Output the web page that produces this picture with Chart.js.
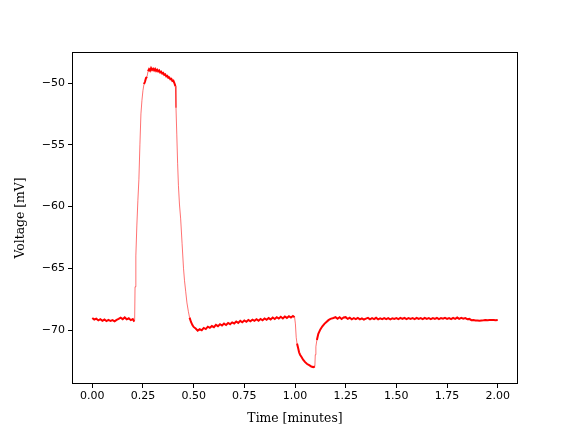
<!DOCTYPE html>
<html>
<head>
<meta charset="utf-8">
<script src="https://cdn.jsdelivr.net/npm/chart.js@4/dist/chart.umd.min.js"></script>
<style>
html,body{margin:0;padding:0;background:#fff;}
canvas{display:block;}
</style>
</head>
<body>
<canvas id="c" width="576" height="432"></canvas>
<script>
// Time in minutes
const times = [
0.00,0.01,0.02,0.03,0.04,0.05,0.06,0.07,0.08,0.09,
0.10,0.11,0.12,0.13,0.14,0.15,0.16,0.17,0.18,0.19,
0.20,0.205,0.209,0.211,0.215,0.22,0.225,0.23,0.235,0.24,
0.245,0.25,0.255,0.26,0.265,0.27,0.275,0.28,0.285,0.29,
0.295,0.30,0.305,0.31,0.315,0.32,0.325,0.33,0.335,0.34,
0.345,0.35,0.355,0.36,0.365,0.37,0.375,0.38,0.385,0.39,
0.395,0.40,0.405,0.41,0.413,0.417,0.421,0.425,0.43,0.436,
0.443,0.45,0.455,0.461,0.467,0.474,0.48,0.487,0.494,0.50,
0.51,0.52,0.53,0.54,0.55,0.56,0.57,0.58,0.59,0.60,
0.61,0.62,0.63,0.64,0.65,0.66,0.67,0.68,0.69,0.70,
0.71,0.72,0.73,0.74,0.75,0.76,0.77,0.78,0.79,0.80,
0.81,0.82,0.83,0.84,0.85,0.86,0.87,0.88,0.89,0.90,
0.91,0.92,0.93,0.94,0.95,0.96,0.97,0.98,0.99,0.998,
1.002,1.006,1.01,1.016,1.02,1.025,1.033,1.04,1.05,1.06,
1.07,1.08,1.09,1.098,1.10,1.103,1.108,1.115,1.125,1.135,
1.145,1.155,1.165,1.175,1.19,1.20,1.21,1.22,1.23,1.24,
1.25,1.26,1.27,1.28,1.29,1.30,1.31,1.32,1.33,1.34,
1.35,1.36,1.37,1.38,1.39,1.40,1.41,1.42,1.43,1.44,
1.45,1.46,1.47,1.48,1.49,1.50,1.51,1.52,1.53,1.54,
1.55,1.56,1.57,1.58,1.59,1.60,1.61,1.62,1.63,1.64,
1.65,1.66,1.67,1.68,1.69,1.70,1.71,1.72,1.73,1.74,
1.75,1.76,1.77,1.78,1.79,1.80,1.81,1.82,1.83,1.84,
1.85,1.86,1.87,1.88,1.89,1.90,1.91,1.92,1.93,1.94,
1.95,1.96,1.97,1.98,1.99,2.00
];
// Voltage in mV
const volts = [
-69.02,-69.15,-69.08,-69.22,-69.12,-69.25,-69.15,-69.27,-69.18,-69.27,
-69.20,-69.30,-69.18,-69.10,-69.00,-69.12,-68.98,-69.13,-69.05,-69.20,
-69.12,-69.25,-69.20,-66.50,-64.00,-61.50,-59.50,-57.80,-55.00,-52.50,
-51.40,-50.60,-50.10,-49.90,-49.60,-49.50,-49.05,-48.88,-49.00,-48.80,
-48.95,-48.85,-48.98,-48.86,-49.02,-48.92,-49.06,-48.98,-49.14,-49.08,
-49.24,-49.18,-49.34,-49.30,-49.46,-49.42,-49.58,-49.55,-49.70,-49.66,
-49.84,-49.80,-50.00,-50.25,-52.00,-54.20,-56.50,-58.30,-59.80,-61.00,
-63.00,-65.00,-66.00,-66.90,-67.80,-68.50,-69.00,-69.35,-69.60,-69.75,
-69.88,-70.05,-69.93,-70.02,-69.83,-69.92,-69.73,-69.82,-69.68,-69.77,
-69.58,-69.69,-69.53,-69.64,-69.48,-69.59,-69.43,-69.53,-69.38,-69.47,
-69.31,-69.42,-69.26,-69.37,-69.23,-69.33,-69.18,-69.29,-69.16,-69.26,
-69.13,-69.24,-69.10,-69.21,-69.06,-69.17,-69.03,-69.14,-68.99,-69.11,
-68.96,-69.07,-68.93,-69.06,-68.90,-69.02,-68.88,-68.99,-68.86,-68.96,
-69.50,-70.60,-71.10,-71.50,-71.80,-72.00,-72.20,-72.40,-72.60,-72.75,
-72.85,-72.95,-73.00,-72.95,-72.00,-71.35,-70.80,-70.30,-69.95,-69.70,
-69.50,-69.35,-69.20,-69.10,-69.03,-68.96,-69.09,-68.97,-69.11,-68.99,
-68.96,-69.10,-69.01,-69.13,-69.04,-69.12,-69.02,-69.13,-69.05,-69.15,
-69.08,-69.02,-69.13,-69.04,-69.12,-69.01,-69.13,-69.05,-69.12,-69.03,
-69.12,-69.04,-69.13,-69.05,-69.11,-69.04,-69.12,-69.02,-69.10,-69.01,
-69.12,-69.03,-69.10,-69.04,-69.12,-69.01,-69.10,-69.03,-69.12,-69.02,
-69.10,-69.04,-69.12,-69.03,-69.10,-69.01,-69.11,-69.03,-69.09,-69.02,
-69.10,-69.03,-69.12,-69.01,-69.09,-68.99,-69.10,-69.02,-69.09,-69.04,
-69.12,-69.10,-69.20,-69.19,-69.23,-69.22,-69.25,-69.22,-69.21,-69.19,
-69.20,-69.19,-69.19,-69.18,-69.20,-69.18
];
const xTickValues = [0, 0.25, 0.5, 0.75, 1.0, 1.25, 1.5, 1.75, 2.0];
const yTickValues = [-70, -65, -60, -55, -50];
const xTitle = 'Time [minutes]';
const yTitle = 'Voltage [mV]';

const points = times.map((t, i) => ({x: t, y: volts[i]}));

const framePlugin = {
  id: 'frame',
  afterDraw(chart) {
    const a = chart.chartArea, ctx = chart.ctx;
    ctx.save();
    ctx.strokeStyle = '#000';
    ctx.lineWidth = 1;
    ctx.strokeRect(Math.round(a.left) + 0.5, Math.round(a.top) + 0.5,
                   Math.round(a.right - a.left) - 1, Math.round(a.bottom - a.top) - 1);
    ctx.restore();
  }
};

// thin stroke on steep segments, band-like stroke on noisy flat parts
function steep(ctx) {
  const dx = Math.abs(ctx.p1.x - ctx.p0.x), dy = Math.abs(ctx.p1.y - ctx.p0.y);
  return dy > 3 * dx + 2;
}

const tickFont = {family: 'DejaVu Sans', size: 11};
const titleFont = {family: 'DejaVu Serif', size: 12.4};

new Chart(document.getElementById('c'), {
  type: 'scatter',
  data: {
    datasets: [{
      data: points,
      showLine: true,
      borderColor: '#ff0000',
      backgroundColor: '#ff0000',
      borderWidth: 2,
      pointRadius: 0,
      tension: 0,
      segment: {
        borderWidth: c => steep(c) ? 0.8 : 2,
        borderColor: c => steep(c) ? 'rgba(255,0,0,0.7)' : '#ff0000'
      }
    }]
  },
  options: {
    responsive: false,
    animation: false,
    devicePixelRatio: 1,
    layout: {padding: {left: 0, top: 52, right: 58, bottom: 0}},
    plugins: {legend: {display: false}, tooltip: {enabled: false}},
    scales: {
      x: {
        type: 'linear',
        min: -0.1, max: 2.1,
        afterFit(s) { s.height = 48; },
        afterBuildTicks(s) { s.ticks = xTickValues.map(v => ({value: v})); },
        ticks: {
          color: '#000', font: tickFont, padding: 2, maxRotation: 0,
          callback: v => v.toFixed(2)
        },
        grid: {display: true, drawOnChartArea: false, drawTicks: true, tickLength: 4, color: '#000', tickColor: '#000'},
        border: {display: false},
        title: {display: true, text: xTitle, color: '#000', font: titleFont, padding: {top: 0, bottom: 6}}
      },
      y: {
        type: 'linear',
        min: -74.37, max: -47.49,
        afterFit(s) { s.width = 72; },
        afterBuildTicks(s) { s.ticks = yTickValues.map(v => ({value: v})); },
        ticks: {
          color: '#000', font: tickFont, padding: 3,
          callback: v => String(v).replace('-', '\u2212')
        },
        grid: {display: true, drawOnChartArea: false, drawTicks: true, tickLength: 4, color: '#000', tickColor: '#000'},
        border: {display: false},
        title: {display: true, text: yTitle, color: '#000', font: titleFont, padding: {top: 13, bottom: 0}}
      }
    }
  },
  plugins: [framePlugin]
});
</script>
</body>
</html>
